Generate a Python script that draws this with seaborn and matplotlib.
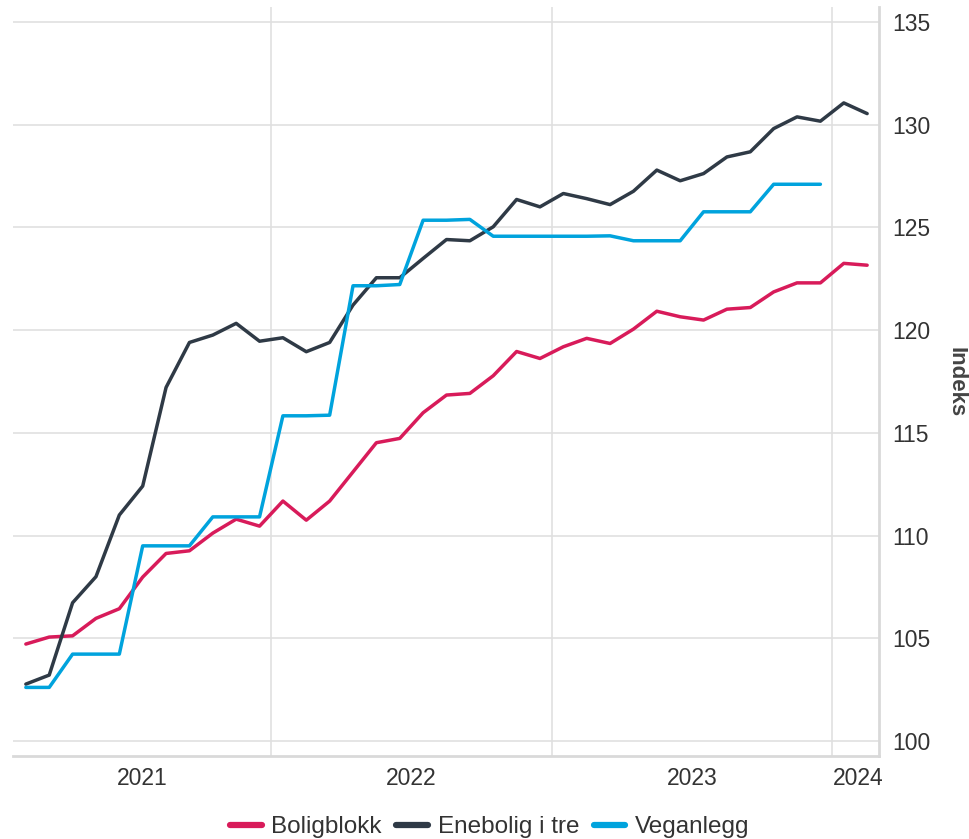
import numpy as np
import pandas as pd
import matplotlib
matplotlib.use("Agg")
import matplotlib.pyplot as plt
import seaborn as sns

# monthly index values, Feb 2021 .. Feb 2024 (37 months)
months = list(range(37))

boligblokk = [104.72, 105.06, 105.12, 105.97, 106.44, 107.98, 109.13, 109.26, 110.12, 110.80,
              110.46, 111.68, 110.75, 111.68, 113.10, 114.52, 114.73, 115.98, 116.84, 116.92,
              117.78, 118.96, 118.62, 119.19, 119.60, 119.35, 120.05, 120.92, 120.65, 120.49,
              121.02, 121.10, 121.86, 122.30, 122.30, 123.25, 123.16]

enebolig = [102.77, 103.21, 106.73, 108.00, 111.00, 112.41, 117.21, 119.40, 119.76, 120.33,
            119.46, 119.63, 118.95, 119.40, 121.22, 122.55, 122.55, 123.49, 124.41, 124.35,
            125.03, 126.36, 126.00, 126.65, 126.40, 126.11, 126.76, 127.79, 127.27, 127.62,
            128.43, 128.68, 129.81, 130.38, 130.17, 131.06, 130.54]

veganlegg = [102.61, 102.61, 104.23, 104.23, 104.23, 109.50, 109.50, 109.50, 110.91, 110.91,
             110.91, 115.83, 115.83, 115.86, 122.16, 122.16, 122.22, 125.35, 125.35, 125.39,
             124.57, 124.57, 124.57, 124.57, 124.57, 124.59, 124.35, 124.35, 124.35, 125.76,
             125.76, 125.76, 127.10, 127.10, 127.10, np.nan, np.nan]

series_names = ["Boligblokk", "Enebolig i tre", "Veganlegg"]
colors = ["#d81b5a", "#2f3a46", "#00a3dd"]

year_labels = ["2021", "2022", "2023", "2024"]
year_label_pos = [5.0, 16.5, 28.5, 35.6]
year_starts = [10.5, 22.5, 34.5]
y_ticks = [100, 105, 110, 115, 120, 125, 130, 135]

df = pd.DataFrame({
    "month": months * 3,
    "value": boligblokk + enebolig + veganlegg,
    "serie": np.repeat(series_names, len(months)),
})

sns.set_style("white")
plt.rcParams["font.family"] = ["Liberation Sans", "DejaVu Sans"]

fig, ax = plt.subplots(figsize=(9.7, 8.39), dpi=100)
fig.subplots_adjust(left=0.0134, right=0.906, top=0.9917, bottom=0.0989)

sns.lineplot(data=df, x="month", y="value", hue="serie", palette=colors,
             linewidth=2.5, ax=ax, legend=True)

ax.set_xlim(-0.55, 36.5)
ax.set_ylim(99.27, 135.73)

# y axis on the right
ax.yaxis.tick_right()
ax.set_yticks(y_ticks)
ax.set_yticklabels([str(t) for t in y_ticks])
ax.set_ylabel("")
fig.text(956 / 970, 1 - 382 / 839, "Indeks", rotation=270, fontsize=16,
         fontweight="bold", color="#444444", ha="center", va="center")

# gridlines at year starts, labels in middle of visible year span
ax.set_xticks(year_starts)
ax.set_xticklabels([])
ax.set_xticks(year_label_pos, minor=True)
ax.set_xticklabels(year_labels, minor=True)
ax.set_xlabel("")

ax.tick_params(axis="both", which="both", length=0, labelsize=16.5, colors="#333333")
ax.tick_params(axis="y", pad=10)
ax.tick_params(axis="x", which="minor", pad=8)

ax.grid(True, which="major", color="#e0e0e0", linewidth=1.2)
ax.set_axisbelow(True)

for side in ["left", "top"]:
    ax.spines[side].set_visible(False)
for side in ["right", "bottom"]:
    ax.spines[side].set_color("#d9d9d9")
    ax.spines[side].set_linewidth(2)

handles, labels = ax.get_legend_handles_labels()
ax.legend_.remove()
leg = fig.legend(handles, labels, loc="lower center", bbox_to_anchor=(0.505, -0.025),
                 ncol=3, frameon=False, fontsize=17.5, handlelength=1.3,
                 handletextpad=0.4, columnspacing=0.6)
for line in leg.get_lines():
    line.set_linewidth(4.5)
for txt in leg.get_texts():
    txt.set_color("#333333")

fig.savefig("out.png", dpi=100)
